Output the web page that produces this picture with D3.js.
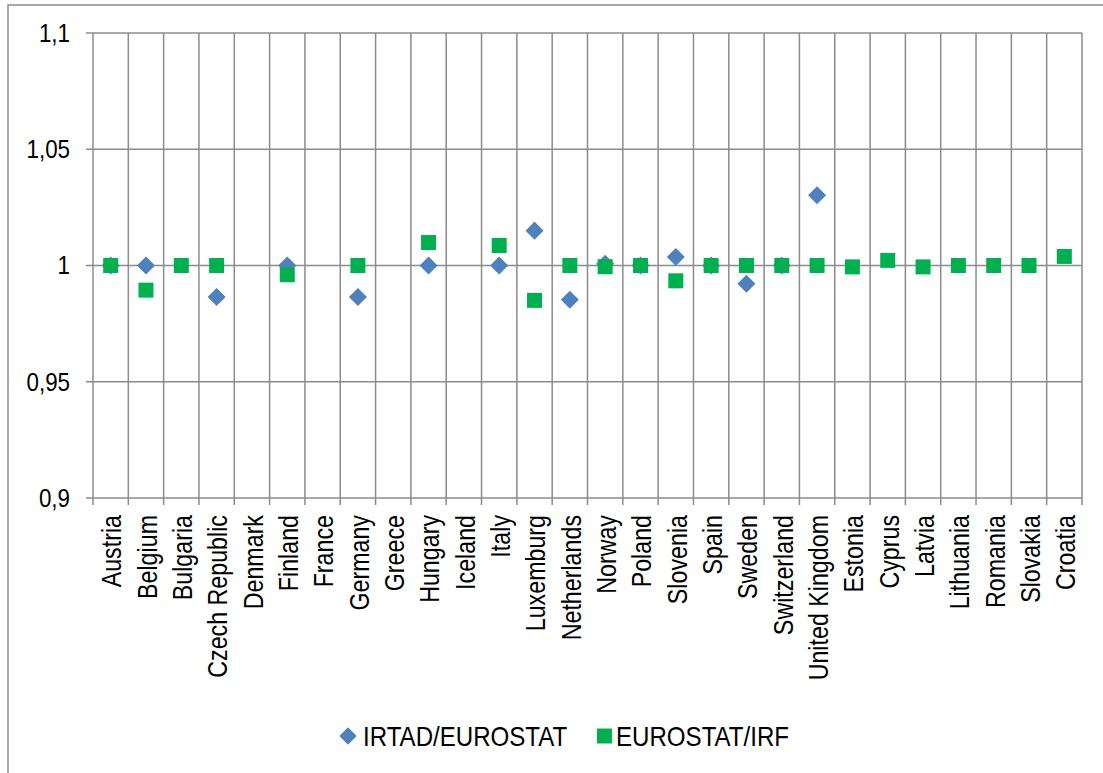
<!DOCTYPE html>
<html>
<head>
<meta charset="utf-8">
<script src="https://cdn.jsdelivr.net/npm/d3@7"></script>
<style>
  body { margin: 0; background: #fff; }
  text { font-family: "Liberation Sans", Arial, sans-serif; fill: #000; }
</style>
</head>
<body>
<svg id="chart" width="1103" height="773"></svg>
<script>
// categories and values (null = no marker)
var countries = ["Austria", "Belgium", "Bulgaria", "Czech Republic", "Denmark", "Finland", "France",
  "Germany", "Greece", "Hungary", "Iceland", "Italy", "Luxemburg", "Netherlands", "Norway", "Poland",
  "Slovenia", "Spain", "Sweden", "Switzerland", "United Kingdom", "Estonia", "Cyprus", "Latvia",
  "Lithuania", "Romania", "Slovakia", "Croatia"];

var irtadEurostat = [1, 1, null, 0.9864, null, 1, null,
  0.9865, null, 1, null, 1, 1.015, 0.9853, 1.0008, 1,
  1.0037, 1, 0.9921, 1, 1.0302, null, null, null,
  null, null, null, null];

var eurostatIrf = [1, 0.9894, 1, 1, null, 0.996, null,
  1, null, 1.0099, null, 1.0086, 0.985, 1, 0.9995, 1,
  0.9934, 1, 1, 1, 1, 0.9994, 1.0022, 0.9994,
  1, 1, 1, 1.0039];

var yTicks = [0.9, 0.95, 1, 1.05, 1.1];
var seriesNames = ["IRTAD/EUROSTAT", "EUROSTAT/IRF"];

var blue = "#4f81bd", green = "#00b050", gridColor = "#8c8c8c";

var svg = d3.select("#chart");

var plotLeft = 93, plotRight = 1082, plotTop = 33, plotBottom = 498;

var x = d3.scaleBand().domain(countries).range([plotLeft, plotRight]).padding(0);
var y = d3.scaleLinear().domain([0.9, 1.1]).range([plotBottom, plotTop]);

// squeeze text like a narrow font (no Arial Narrow available)
function narrow(sel, k) {
  sel.each(function () {
    var len = this.getComputedTextLength();
    d3.select(this)
      .attr("textLength", len * k)
      .attr("lengthAdjust", "spacingAndGlyphs");
  });
}

// outer frame
svg.append("rect")
  .attr("x", 8).attr("y", 5)
  .attr("width", 1110).attr("height", 790)
  .attr("fill", "none")
  .attr("stroke", gridColor)
  .attr("stroke-width", 1.5);

// horizontal grid
svg.append("g").selectAll("line")
  .data(yTicks).enter()
  .append("line")
  .attr("x1", plotLeft - 7)
  .attr("x2", plotRight)
  .attr("y1", function (d) { return y(d); })
  .attr("y2", function (d) { return y(d); })
  .attr("stroke", gridColor)
  .attr("stroke-width", 1.5);

// vertical grid at category boundaries (plus tick marks below axis)
var bounds = countries.map(function (c) { return x(c); }).concat([plotRight]);
svg.append("g").selectAll("line")
  .data(bounds).enter()
  .append("line")
  .attr("x1", function (d) { return d; })
  .attr("x2", function (d) { return d; })
  .attr("y1", plotTop)
  .attr("y2", plotBottom + 7)
  .attr("stroke", gridColor)
  .attr("stroke-width", 1.5);

// y axis labels
var yAxis = d3.axisLeft(y)
  .tickValues(yTicks)
  .tickSize(0)
  .tickPadding(23)
  .tickFormat(function (d) { return String(d).replace(".", ","); });

svg.append("g")
  .attr("class", "y axis")
  .attr("transform", "translate(" + plotLeft + ",0)")
  .call(yAxis)
  .call(function (g) { g.select(".domain").remove(); })
  .selectAll("text")
  .style("font-size", "26px")
  .style("font-family", "Liberation Sans, Arial, sans-serif")
  .call(narrow, 0.86);

// x axis labels, rotated
var xAxis = d3.axisBottom(x).tickSize(0);

svg.append("g")
  .attr("class", "x axis")
  .attr("transform", "translate(0," + plotBottom + ")")
  .call(xAxis)
  .call(function (g) { g.select(".domain").remove(); })
  .selectAll("text")
  .style("font-size", "28px")
  .style("font-family", "Liberation Sans, Arial, sans-serif")
  .style("text-anchor", "end")
  .attr("x", -17)
  .attr("y", 1)
  .attr("dy", "0.35em")
  .attr("transform", "rotate(-90)")
  .call(narrow, 0.83);

var diamond = d3.symbol().type(d3.symbolSquare).size(162);
var square = d3.symbol().type(d3.symbolSquare).size(225);

var cx = function (i) { return x(countries[i]) + x.bandwidth() / 2; };

// IRTAD/EUROSTAT diamonds
svg.append("g").selectAll("path")
  .data(irtadEurostat.map(function (v, i) { return [i, v]; }).filter(function (d) { return d[1] != null; }))
  .enter()
  .append("path")
  .attr("d", diamond)
  .attr("fill", blue)
  .attr("transform", function (d) { return "translate(" + cx(d[0]) + "," + y(d[1]) + ") rotate(45)"; });

// EUROSTAT/IRF squares
svg.append("g").selectAll("path")
  .data(eurostatIrf.map(function (v, i) { return [i, v]; }).filter(function (d) { return d[1] != null; }))
  .enter()
  .append("path")
  .attr("d", square)
  .attr("fill", green)
  .attr("transform", function (d) { return "translate(" + cx(d[0]) + "," + y(d[1]) + ")"; });

// legend
var legend = svg.append("g").attr("class", "legend");

legend.append("path")
  .attr("d", d3.symbol().type(d3.symbolSquare).size(150))
  .attr("fill", blue)
  .attr("transform", "translate(348,736) rotate(45)");
legend.append("text")
  .attr("x", 363).attr("y", 736).attr("dy", "0.35em")
  .style("font-size", "28px")
  .text(seriesNames[0])
  .call(narrow, 0.86);

legend.append("path")
  .attr("d", d3.symbol().type(d3.symbolSquare).size(225))
  .attr("fill", green)
  .attr("transform", "translate(604.5,736)");
legend.append("text")
  .attr("x", 616).attr("y", 736).attr("dy", "0.35em")
  .style("font-size", "28px")
  .text(seriesNames[1])
  .call(narrow, 0.86);
</script>
</body>
</html>
